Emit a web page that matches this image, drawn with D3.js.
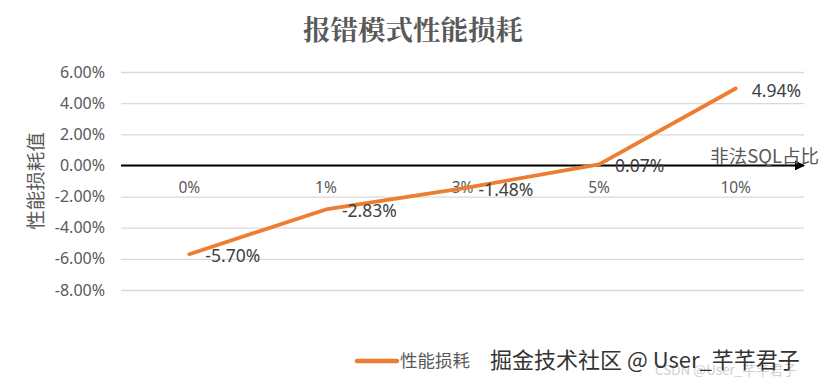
<!DOCTYPE html>
<html>
<head>
<meta charset="utf-8">
<script src="https://cdn.jsdelivr.net/npm/d3@7"></script>
<style>
  body { margin: 0; background: #fff; }
  text { font-family: "Microsoft YaHei", "Noto Sans CJK SC", "Noto Sans", sans-serif; }
</style>
</head>
<body>
<svg id="chart"></svg>
<script>
const W = 823, H = 386;

// data
const categories = ["0%", "1%", "3%", "5%", "10%"];
const lossValues = [-5.70, -2.83, -1.48, 0.07, 4.94];
const yTicks     = [6, 4, 2, 0, -2, -4, -6, -8];

const titleTxt   = "报错模式性能损耗";
const yTitle     = "性能损耗值";
const xTitle     = "非法SQL占比";
const seriesName = "性能损耗";

const plot = { left: 121, right: 804, top: 72, bottom: 290 };

const svg = d3.select("#chart")
  .attr("width", W)
  .attr("height", H);

svg.append("rect")
  .attr("width", W).attr("height", H)
  .attr("fill", "#fff");

const x = d3.scalePoint()
  .domain(categories)
  .range([plot.left, plot.right])
  .padding(0.5);

const y = d3.scaleLinear()
  .domain([-8, 6])
  .range([plot.bottom, plot.top]);

// title
svg.append("text")
  .attr("x", 413).attr("y", 40)
  .attr("text-anchor", "middle")
  .attr("font-size", 27.5)
  .attr("font-weight", "bold")
  .attr("fill", "#595959")
  .style("font-family", "'Noto Serif CJK SC', 'Noto Sans CJK SC', serif")
  .text(titleTxt);

// horizontal grid + y tick labels
const yAxis = d3.axisLeft(y)
  .tickValues(yTicks)
  .tickSize(-(plot.right - plot.left))
  .tickPadding(16)
  .tickFormat(d => d.toFixed(2) + "%");

const gy = svg.append("g")
  .attr("transform", "translate(" + plot.left + ",0)")
  .call(yAxis);
gy.select(".domain").remove();
gy.selectAll(".tick line")
  .attr("stroke", "#d9d9d9")
  .attr("stroke-width", 1.3);
gy.selectAll(".tick text")
  .attr("fill", "#595959")
  .attr("font-size", 16)
  .style("font-family", "'Noto Sans', 'Open Sans', sans-serif");

// y axis title
svg.append("text")
  .attr("transform", "translate(43," + y(-1.0) + ") rotate(-90)")
  .attr("text-anchor", "middle")
  .attr("font-size", 19.5)
  .attr("fill", "#595959")
  .text(yTitle);

// zero axis with arrow
svg.append("defs").append("marker")
  .attr("id", "arrow")
  .attr("viewBox", "0 0 10 10")
  .attr("refX", 9).attr("refY", 5)
  .attr("markerWidth", 5).attr("markerHeight", 5)
  .attr("orient", "auto")
  .append("path")
    .attr("d", "M0,0 L10,5 L0,10 z")
    .attr("fill", "#000");

svg.append("line")
  .attr("x1", plot.left).attr("x2", plot.right)
  .attr("y1", y(0)).attr("y2", y(0))
  .attr("stroke", "#000")
  .attr("stroke-width", 2)
  .attr("marker-end", "url(#arrow)");

// x axis title
svg.append("text")
  .attr("x", 819).attr("y", y(0) - 2)
  .attr("text-anchor", "end")
  .attr("font-size", 18.5)
  .attr("fill", "#595959")
  .text(xTitle);

// category labels just under the zero line
svg.append("g")
  .selectAll("text")
  .data(categories)
  .enter()
    .append("text")
      .attr("x", d => x(d))
      .attr("y", y(0) + 28)
      .attr("text-anchor", "middle")
      .attr("font-size", 15.5)
      .attr("fill", "#595959")
      .style("font-family", "'Noto Sans', 'Open Sans', sans-serif")
      .text(d => d);

// series line
const pts = categories.map((c, i) => ({ cat: c, val: lossValues[i] }));

const line = d3.line()
  .x(d => x(d.cat))
  .y(d => y(d.val));

svg.append("path")
  .datum(pts)
  .attr("d", line)
  .attr("fill", "none")
  .attr("stroke", "#ED7D31")
  .attr("stroke-width", 3.8)
  .attr("stroke-linecap", "round")
  .attr("stroke-linejoin", "round");

// data labels (right of point)
svg.append("g")
  .selectAll("text")
  .data(pts)
  .enter()
    .append("text")
      .attr("x", d => x(d.cat) + 16)
      .attr("y", d => y(d.val) + 8)
      .attr("font-size", 17.5)
      .attr("fill", "#404040")
      .style("font-family", "'Noto Sans', 'Open Sans', sans-serif")
      .text(d => d.val.toFixed(2) + "%");

// legend
svg.append("line")
  .attr("x1", 357).attr("x2", 397)
  .attr("y1", 361).attr("y2", 361)
  .attr("stroke", "#ED7D31")
  .attr("stroke-width", 4.5)
  .attr("stroke-linecap", "round");

svg.append("text")
  .attr("x", 400).attr("y", 367)
  .attr("font-size", 17.5)
  .attr("fill", "#595959")
  .text(seriesName);

// watermarks
svg.append("text")
  .attr("x", 655).attr("y", 375)
  .attr("font-size", 13.5)
  .attr("fill", "#cfcfcf")
  .text("CSDN @User_芊芊君子");

svg.append("text")
  .attr("x", 490).attr("y", 368)
  .attr("font-size", 22)
  .attr("fill", "#333")
  .text("掘金技术社区 @ User_芊芊君子");
</script>
</body>
</html>
